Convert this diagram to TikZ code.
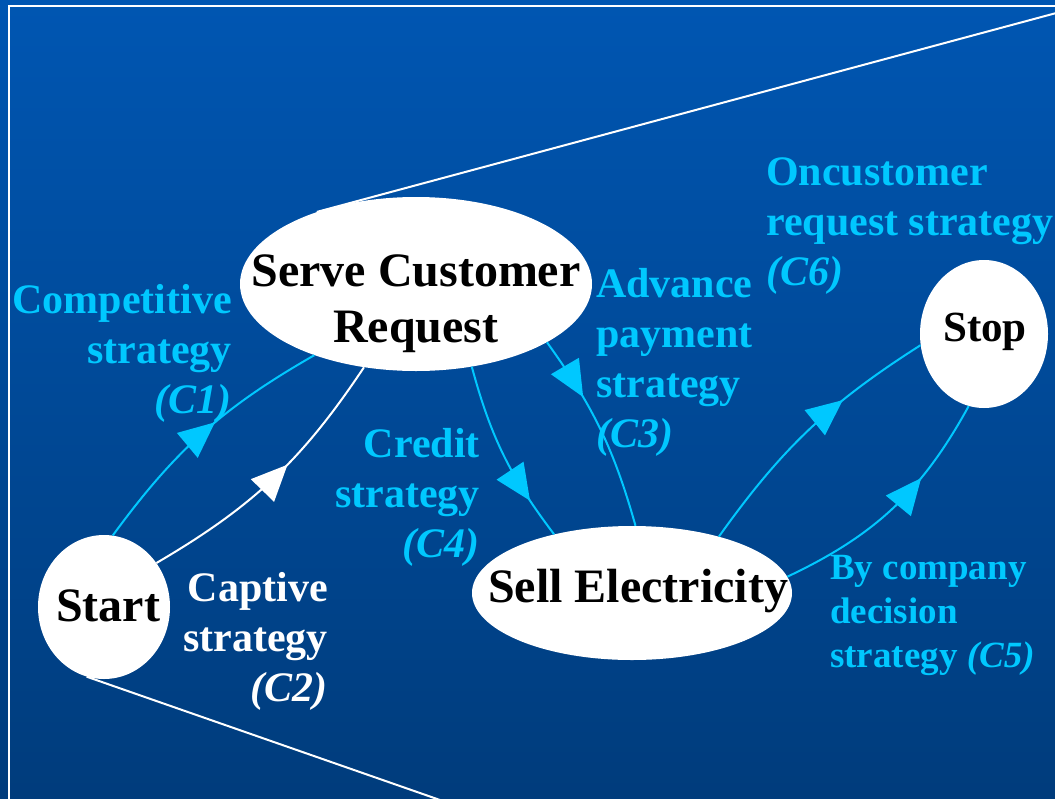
\documentclass[tikz,border=0pt]{standalone}
\usepackage{fontspec}
\setmainfont{Liberation Serif}
\usetikzlibrary{shapes.geometric,arrows.meta,decorations.markings}
\definecolor{bgtop}{RGB}{0,86,178}
\definecolor{bgbot}{RGB}{0,60,124}
\definecolor{cy}{RGB}{0,200,255}
\begin{document}
\begin{tikzpicture}[x=1pt,y=-1pt,
  statetext/.style={font=\fontsize{48}{56}\selectfont\bfseries, text=black, inner sep=0pt},
  stateshape/.style={fill=white, draw=none, inner sep=0pt},
  lab/.style={font=\fontsize{42}{50}\selectfont\bfseries, text=cy, inner sep=0pt},
  labsmall/.style={font=\fontsize{37}{44}\selectfont\bfseries, text=cy, inner sep=0pt},
  conn/.style={line width=2pt},
  midarrow/.style={postaction={decorate}, decoration={markings,
     mark=at position #1 with {\arrow{Triangle[length=36pt,width=32pt]}}}},
]
\useasboundingbox (0,0) rectangle (1055,798);
\shade[top color=bgtop,bottom color=bgbot] (0,0) rectangle (1055,798);
\draw[white, line width=2pt] (9,6) rectangle (1075,820);

% states
\node[stateshape, ellipse, minimum width=352pt, minimum height=174pt] (serve) at (416,284) {};
\node[statetext, align=center] (servetext) at (416,304) {Serve Customer\\Request};
\node[stateshape, ellipse, minimum width=132pt, minimum height=144pt] (start) at (104,607) {};
\node[statetext] (starttext) at (108,606) {Start};
\node[stateshape, ellipse, minimum width=320pt, minimum height=134pt] (sell) at (632,593) {};
\node[statetext] (selltext) at (638,591) {Sell Electricity};
\node[stateshape, ellipse, minimum width=128pt, minimum height=148pt] (stop) at (984,334) {};
\node[statetext, font=\fontsize{43}{50}\selectfont\bfseries] (stoptext) at (985,332) {Stop};

% decorative lines
\coordinate (topend) at (1060,12);
\coordinate (botend) at (440,800);
\draw[white, line width=2pt] (serve.144) -- (topend);
\draw[white, line width=2pt] (start.256) -- (botend);

% connectors
\draw[conn, cy, midarrow=0.56] (start.83) to[bend left=12] (serve.215);
\draw[conn, white, midarrow=0.57] (start.40) to[bend right=13] (serve.238);
\draw[conn, cy, midarrow=0.78] (serve.304) to[bend right=11] (sell.143);
\draw[conn, cy, midarrow=0.32] (serve.336) to[bend left=10] (sell.87);
\draw[conn, cy, midarrow=0.66] (sell.33) to[bend left=11] (stop.190);
\draw[conn, cy, midarrow=0.66] (sell.6) to[bend right=18] (stop.258);

% labels
\node[lab, anchor=north east, align=right] (l1) at (232,284) {Competitive\\strategy\\\textit{(C1)}};
\node[lab, anchor=north east, align=right, text=white] (l2) at (328,572) {Captive\\strategy\\\textit{(C2)}};
\node[lab, anchor=north west, align=left] (l3) at (596,268) {Advance\\payment\\strategy\\\textit{(C3)}};
\node[lab, anchor=north east, align=right] (l4) at (480,428) {Credit\\strategy\\\textit{(C4)}};
\node[labsmall, anchor=north west, align=left] (l5) at (830,555) {By company\\decision\\strategy \textit{(C5)}};
\node[lab, anchor=north west, align=left] (l6) at (766,157) {Oncustomer\\request strategy\\\textit{(C6)}};
\end{tikzpicture}
\end{document}
